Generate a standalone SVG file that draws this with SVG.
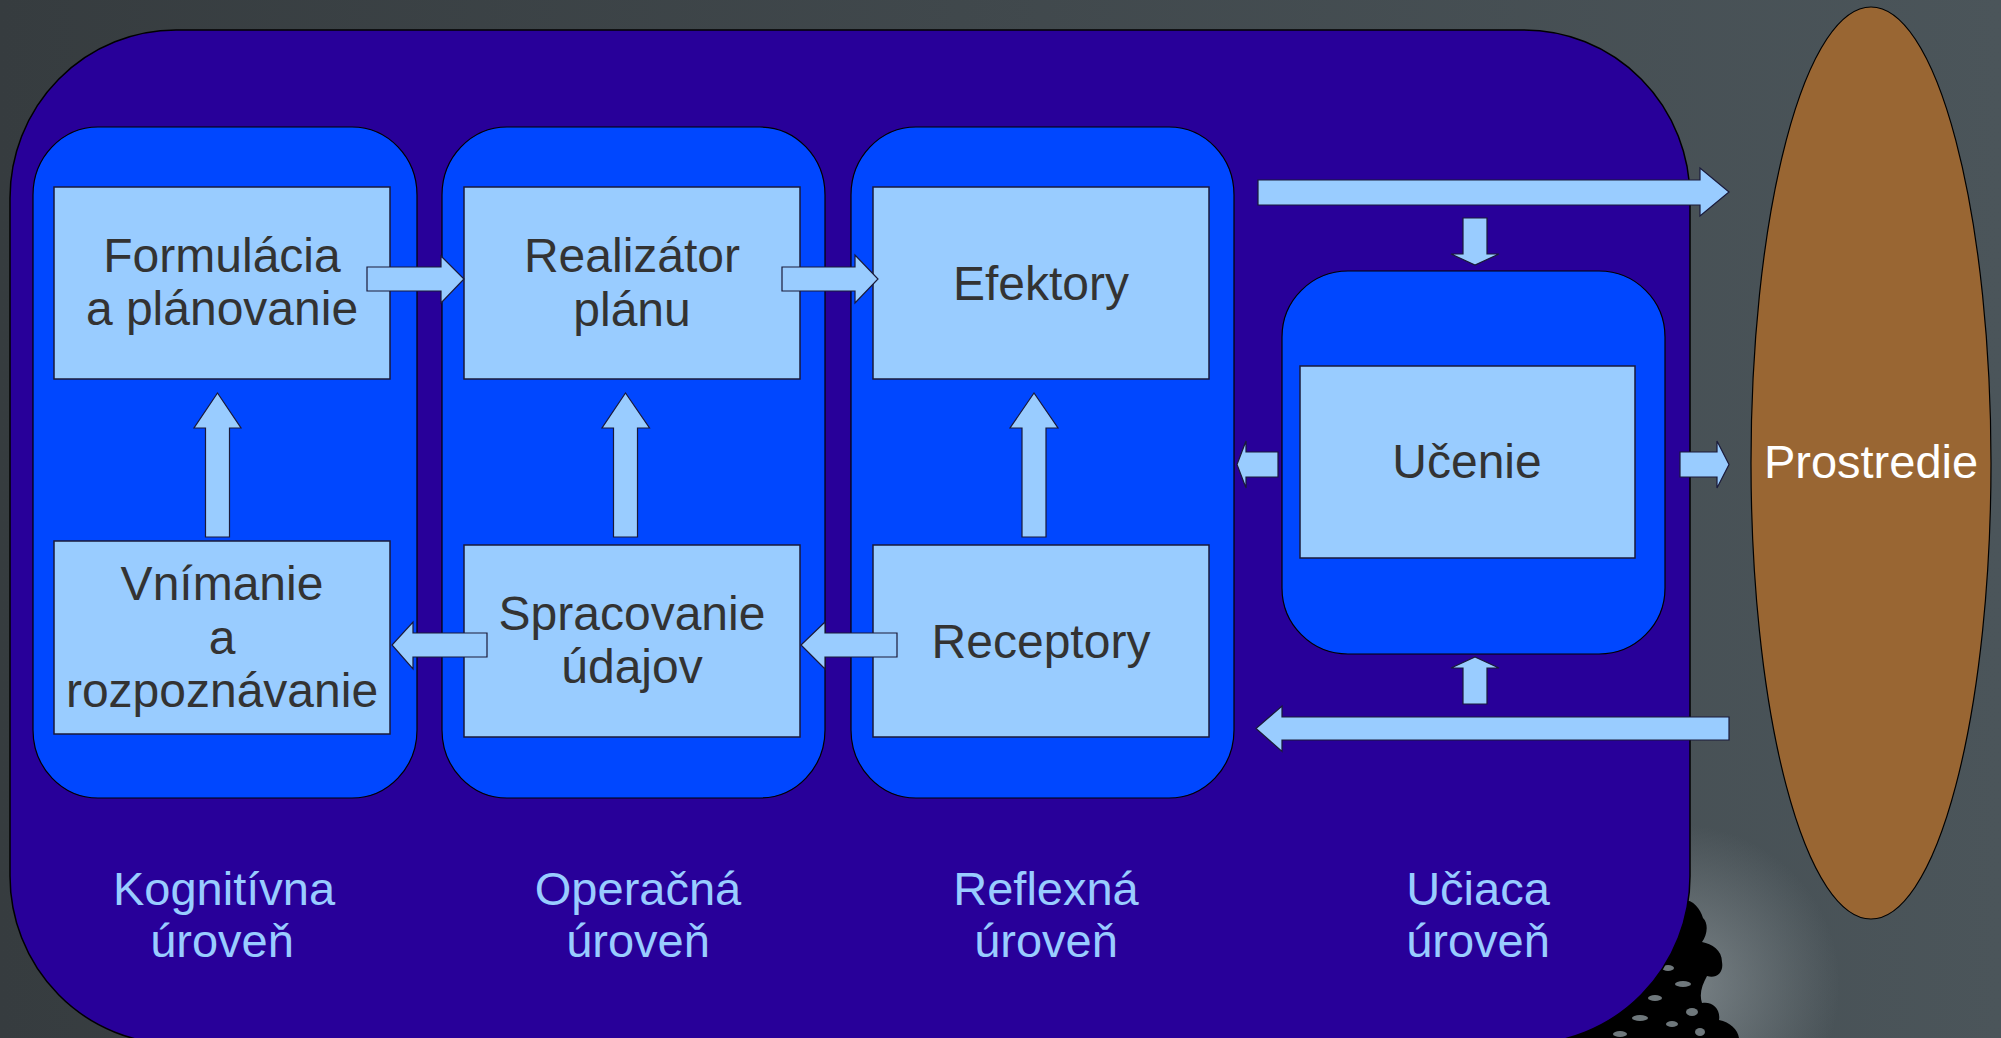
<svg xmlns="http://www.w3.org/2000/svg" width="2001" height="1038" viewBox="0 0 2001 1038">
<defs>
<linearGradient id="bg" x1="0" y1="0" x2="1" y2="0">
<stop offset="0" stop-color="#363c3f"/>
<stop offset="1" stop-color="#4b555a"/>
</linearGradient>
<radialGradient id="glow" cx="1680" cy="985" r="160" gradientUnits="userSpaceOnUse">
<stop offset="0" stop-color="#8a9397" stop-opacity="0.75"/>
<stop offset="1" stop-color="#8a9397" stop-opacity="0"/>
</radialGradient>
<style>
.col{fill:#0047ff;stroke:#000;stroke-width:1.2}
.box{fill:#99ccff;stroke:#1a1a3a;stroke-width:1.5}
.arr{fill:#99ccff;stroke:#1a1a3a;stroke-width:1.2}
.t{font-family:"Liberation Sans",Arial,sans-serif;font-size:48px;fill:#333;text-anchor:middle}
.lbl{font-family:"Liberation Sans",Arial,sans-serif;font-size:47px;fill:#99ccff;text-anchor:middle}
.env{font-family:"Liberation Sans",Arial,sans-serif;font-size:47px;fill:#fff;text-anchor:middle}
.hole{fill:#6f787c}
</style>
</defs>
<rect x="0" y="0" width="2001" height="1038" fill="url(#bg)"/>
<rect x="1500" y="820" width="360" height="218" fill="url(#glow)"/>
<g id="tree">
<path fill="#000" d="M1680,900 C1692,898 1700,908 1703,918 C1709,924 1707,935 1702,942 C1712,944 1722,950 1722,962 C1724,973 1716,979 1707,976 C1702,985 1699,994 1702,1003 C1712,1001 1721,1009 1719,1020 C1730,1022 1738,1030 1739,1038 L1560,1038 Z"/>
<ellipse class="hole" cx="1668" cy="968" rx="6" ry="3"/>
<ellipse class="hole" cx="1683" cy="984" rx="8" ry="3"/>
<ellipse class="hole" cx="1655" cy="998" rx="7" ry="3"/>
<ellipse class="hole" cx="1692" cy="1012" rx="6" ry="4"/>
<ellipse class="hole" cx="1640" cy="1018" rx="8" ry="3"/>
<ellipse class="hole" cx="1672" cy="1024" rx="6" ry="3"/>
<ellipse class="hole" cx="1620" cy="1034" rx="7" ry="3"/>
<ellipse class="hole" cx="1700" cy="1032" rx="5" ry="4"/>
</g>
<g id="env">
<ellipse cx="1871" cy="463" rx="120" ry="456" fill="#996633" stroke="#000" stroke-width="1.2"/>
<text class="env" x="1871" y="478">Prostredie</text>
</g>
<g id="agent">
<rect x="10" y="30" width="1680" height="1014" rx="166" ry="168" fill="#280099" stroke="#000" stroke-width="1.5"/>
</g>
<g id="level-cognitive">
<rect class="col" x="33" y="127" width="384" height="671" rx="65" ry="68"/>
<text class="lbl" x="224" y="905">Kognitívna</text>
<text class="lbl" x="222" y="957">úroveň</text>
</g>
<g id="level-operational">
<rect class="col" x="442" y="127" width="383" height="671" rx="65" ry="68"/>
<text class="lbl" x="638" y="905">Operačná</text>
<text class="lbl" x="638" y="957">úroveň</text>
</g>
<g id="level-reflex">
<rect class="col" x="851" y="127" width="383" height="671" rx="65" ry="68"/>
<text class="lbl" x="1046" y="905">Reflexná</text>
<text class="lbl" x="1046" y="957">úroveň</text>
</g>
<g id="level-learning">
<rect class="col" x="1282" y="271" width="383" height="383" rx="66" ry="66"/>
<text class="lbl" x="1478" y="905">Učiaca</text>
<text class="lbl" x="1478" y="957">úroveň</text>
</g>
<g id="formulacia">
<rect class="box" x="54" y="187" width="336" height="192"/>
<text class="t" x="222" y="272">Formulácia</text>
<text class="t" x="222" y="325">a plánovanie</text>
</g>
<g id="realizator">
<rect class="box" x="464" y="187" width="336" height="192"/>
<text class="t" x="632" y="272">Realizátor</text>
<text class="t" x="632" y="326">plánu</text>
</g>
<g id="efektory">
<rect class="box" x="873" y="187" width="336" height="192"/>
<text class="t" x="1041" y="300">Efektory</text>
</g>
<g id="vnimanie">
<rect class="box" x="54" y="541" width="336" height="193"/>
<text class="t" x="222" y="600">Vnímanie</text>
<text class="t" x="222" y="654">a</text>
<text class="t" x="222" y="707">rozpoznávanie</text>
</g>
<g id="spracovanie">
<rect class="box" x="464" y="545" width="336" height="192"/>
<text class="t" x="632" y="630">Spracovanie</text>
<text class="t" x="632" y="683">údajov</text>
</g>
<g id="receptory">
<rect class="box" x="873" y="545" width="336" height="192"/>
<text class="t" x="1041" y="658">Receptory</text>
</g>
<g id="ucenie">
<rect class="box" x="1300" y="366" width="335" height="192"/>
<text class="t" x="1467" y="478">Učenie</text>
</g>
<g id="connectors">
<polygon class="arr" points="367,267 441,267 441,256 464,279 441,303 441,291 367,291"/>
<polygon class="arr" points="782,267 855,267 855,255 878,279 855,303 855,291 782,291"/>
<polygon class="arr" points="205.5,537 205.5,428 194,428 217.5,393 241,428 229.5,428 229.5,537"/>
<polygon class="arr" points="613.5,537 613.5,428 602,428 625.5,393 649.5,428 637.5,428 637.5,537"/>
<polygon class="arr" points="1022,537 1022,428 1010,428 1034,393 1058,428 1046,428 1046,537"/>
<polygon class="arr" points="487,633 413,633 413,622 392,645 413,669 413,657 487,657"/>
<polygon class="arr" points="897,633 825,633 825,622 801,645 825,669 825,657 897,657"/>
<polygon class="arr" points="1258,180 1700,180 1700,168 1729,192 1700,216 1700,205 1258,205"/>
<polygon class="arr" points="1463,218 1487,218 1487,254 1499,254 1475,265 1451,254 1463,254"/>
<polygon class="arr" points="1278,452 1246,452 1246,441 1237,464.5 1246,488 1246,477 1278,477"/>
<polygon class="arr" points="1680,452 1717,452 1717,441 1729,464.5 1717,488 1717,477 1680,477"/>
<polygon class="arr" points="1463,704 1463,668 1451,668 1475,657 1499,668 1487,668 1487,704"/>
<polygon class="arr" points="1729,717 1282,717 1282,706 1256,728.5 1282,751.5 1282,740 1729,740"/>
</g>
</svg>
